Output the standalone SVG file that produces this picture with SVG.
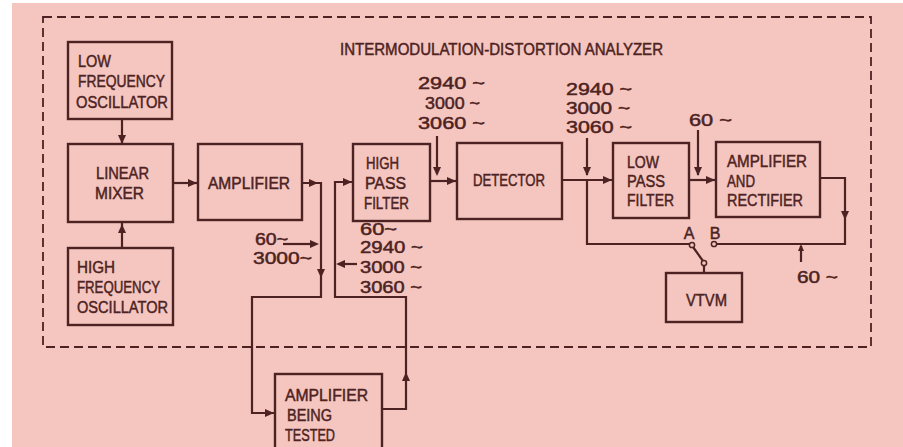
<svg xmlns="http://www.w3.org/2000/svg" xmlns:xlink="http://www.w3.org/1999/xlink" width="903" height="447" viewBox="0 0 903 447">
<style>
.bx{fill:none;stroke:#4d2222;stroke-width:2.4}
.ln{fill:none;stroke:#4d2222;stroke-width:2.2}
.lb{font-family:"Liberation Sans",Arial,sans-serif;font-size:16px;fill:#4d2222;stroke:#4d2222;stroke-width:0.45}
.term{fill:#f4c6bf;stroke:#4d2222;stroke-width:1.5}
</style>
<defs>
<path id="ah" d="M0,0 L-9,-4 L-9,4 Z" fill="#4d2222"/>
</defs>
<rect x="0" y="0" width="903" height="447" fill="#ffffff"/>
<rect x="12" y="3" width="891" height="444" fill="#f4c6bf"/>
<rect x="43" y="17" width="828" height="330" fill="none" stroke="#4d2222" stroke-width="1.8" stroke-dasharray="9 5"/>
<text class="lb" x="340" y="55" font-size="15" textLength="323" lengthAdjust="spacingAndGlyphs">INTERMODULATION-DISTORTION ANALYZER</text>

<g id="lfo">
<rect class="bx" x="68" y="42" width="104" height="77"/>
<text class="lb" x="78" y="67" textLength="33" lengthAdjust="spacingAndGlyphs">LOW</text>
<text class="lb" x="78" y="87" textLength="87" lengthAdjust="spacingAndGlyphs">FREQUENCY</text>
<text class="lb" x="76" y="108" textLength="92" lengthAdjust="spacingAndGlyphs">OSCILLATOR</text>
</g>
<g id="mixer">
<rect class="bx" x="68" y="144" width="105" height="78"/>
<text class="lb" x="96" y="179" textLength="53" lengthAdjust="spacingAndGlyphs">LINEAR</text>
<text class="lb" x="95" y="199" textLength="49" lengthAdjust="spacingAndGlyphs">MIXER</text>
</g>
<g id="hfo">
<rect class="bx" x="68" y="248" width="105" height="77"/>
<text class="lb" x="77" y="273" textLength="38" lengthAdjust="spacingAndGlyphs">HIGH</text>
<text class="lb" x="77" y="293" textLength="83" lengthAdjust="spacingAndGlyphs">FREQUENCY</text>
<text class="lb" x="77" y="313" textLength="91" lengthAdjust="spacingAndGlyphs">OSCILLATOR</text>
</g>
<g id="amplifier">
<rect class="bx" x="198" y="144" width="104" height="76"/>
<text class="lb" x="208" y="189" textLength="82" lengthAdjust="spacingAndGlyphs">AMPLIFIER</text>
</g>
<g id="hpf">
<rect class="bx" x="353" y="144" width="77" height="77"/>
<text class="lb" x="366" y="169" textLength="33" lengthAdjust="spacingAndGlyphs">HIGH</text>
<text class="lb" x="365" y="189" textLength="41" lengthAdjust="spacingAndGlyphs">PASS</text>
<text class="lb" x="364" y="209" textLength="45" lengthAdjust="spacingAndGlyphs">FILTER</text>
</g>
<g id="detector">
<rect class="bx" x="457" y="143" width="105" height="76"/>
<text class="lb" x="473" y="186" textLength="72" lengthAdjust="spacingAndGlyphs">DETECTOR</text>
</g>
<g id="lpf">
<rect class="bx" x="613" y="143" width="76" height="75"/>
<text class="lb" x="627" y="168" textLength="32" lengthAdjust="spacingAndGlyphs">LOW</text>
<text class="lb" x="627" y="187" textLength="38" lengthAdjust="spacingAndGlyphs">PASS</text>
<text class="lb" x="627" y="206" textLength="47" lengthAdjust="spacingAndGlyphs">FILTER</text>
</g>
<g id="amprect">
<rect class="bx" x="716" y="142" width="104" height="75"/>
<text class="lb" x="727" y="167" textLength="80" lengthAdjust="spacingAndGlyphs">AMPLIFIER</text>
<text class="lb" x="727" y="187" textLength="28" lengthAdjust="spacingAndGlyphs">AND</text>
<text class="lb" x="727" y="206" textLength="76" lengthAdjust="spacingAndGlyphs">RECTIFIER</text>
</g>
<g id="vtvm">
<rect class="bx" x="666" y="273" width="76" height="49"/>
<text class="lb" x="686" y="306" textLength="41" lengthAdjust="spacingAndGlyphs">VTVM</text>
</g>
<g id="abt">
<rect class="bx" x="275" y="374" width="107" height="80"/>
<text class="lb" x="285" y="401" textLength="83" lengthAdjust="spacingAndGlyphs">AMPLIFIER</text>
<text class="lb" x="287" y="421" textLength="45" lengthAdjust="spacingAndGlyphs">BEING</text>
<text class="lb" x="285" y="441" textLength="50" lengthAdjust="spacingAndGlyphs">TESTED</text>
</g>

<g id="connectors">
<path class="ln" d="M122 119 V144"/>
<use xlink:href="#ah" transform="translate(122,144) rotate(90)"/>
<path class="ln" d="M122 248 V222"/>
<use xlink:href="#ah" transform="translate(122,224) rotate(-90)"/>
<path class="ln" d="M173 183 H198"/>
<use xlink:href="#ah" transform="translate(197,183)"/>
<path class="ln" d="M302 183 H321 V297 H252 V413 H275"/>
<use xlink:href="#ah" transform="translate(318,183)"/>
<use xlink:href="#ah" transform="translate(321,278) rotate(90)"/>
<use xlink:href="#ah" transform="translate(274,413)"/>
<path class="ln" d="M382 409 H406 V297 H335 V182 H353"/>
<use xlink:href="#ah" transform="translate(406,372) rotate(-90)"/>
<use xlink:href="#ah" transform="translate(352,182)"/>
<path class="ln" d="M430 181 H457"/>
<use xlink:href="#ah" transform="translate(456,181)"/>
<path class="ln" d="M437 136 V174"/>
<use xlink:href="#ah" transform="translate(437,176) rotate(90)"/>
<path class="ln" d="M562 180 H613"/>
<use xlink:href="#ah" transform="translate(612,180)"/>
<path class="ln" d="M587 138 V175"/>
<use xlink:href="#ah" transform="translate(587,176) rotate(90)"/>
<path class="ln" d="M587 180 V244 H690"/>
<path class="ln" d="M689 180 H716"/>
<use xlink:href="#ah" transform="translate(715,180)"/>
<path class="ln" d="M698 130 V175"/>
<use xlink:href="#ah" transform="translate(698,176) rotate(90)"/>
<path class="ln" d="M820 178 H845 V244 H716"/>
<use xlink:href="#ah" transform="translate(845,220) rotate(90)"/>
<path class="ln" d="M801 262 V246" stroke-width="1.6"/>
<path d="M801 244 L798 251 L804 251 Z" fill="#4d2222"/>
<path class="ln" d="M283 244 H310"/>
<use xlink:href="#ah" transform="translate(319,244)"/>
<path class="ln" d="M357 264 H345"/>
<use xlink:href="#ah" transform="translate(336,264) rotate(180)"/>
<path class="ln" d="M693 247 L703 261" stroke-width="1.8"/>
<path class="ln" d="M704 265 V273"/>
<circle class="term" cx="692" cy="245" r="2.6"/>
<circle class="term" cx="714" cy="244" r="2.6"/>
<circle class="term" cx="704" cy="263" r="2.6"/>
</g>

<g id="labels">
<text class="lb" x="689" y="239" font-size="15" text-anchor="middle">A</text>
<text class="lb" x="715" y="239" font-size="15" text-anchor="middle">B</text>
<text class="lb" x="418" y="89" textLength="67" lengthAdjust="spacingAndGlyphs">2940 ~</text>
<text class="lb" x="425" y="109" textLength="55" lengthAdjust="spacingAndGlyphs">3000 ~</text>
<text class="lb" x="418" y="129" textLength="67" lengthAdjust="spacingAndGlyphs">3060 ~</text>
<text class="lb" x="566" y="95" textLength="66" lengthAdjust="spacingAndGlyphs">2940 ~</text>
<text class="lb" x="566" y="114" textLength="64" lengthAdjust="spacingAndGlyphs">3000 ~</text>
<text class="lb" x="566" y="133" textLength="66" lengthAdjust="spacingAndGlyphs">3060 ~</text>
<text class="lb" x="689" y="126" textLength="43" lengthAdjust="spacingAndGlyphs">60 ~</text>
<text class="lb" x="255" y="245" textLength="33" lengthAdjust="spacingAndGlyphs">60~</text>
<text class="lb" x="253" y="264" textLength="59" lengthAdjust="spacingAndGlyphs">3000~</text>
<text class="lb" x="360" y="235" textLength="37" lengthAdjust="spacingAndGlyphs">60~</text>
<text class="lb" x="360" y="253" textLength="63" lengthAdjust="spacingAndGlyphs">2940 ~</text>
<text class="lb" x="360" y="273" textLength="62" lengthAdjust="spacingAndGlyphs">3000 ~</text>
<text class="lb" x="360" y="293" textLength="62" lengthAdjust="spacingAndGlyphs">3060 ~</text>
<text class="lb" x="797" y="283" textLength="41" lengthAdjust="spacingAndGlyphs">60 ~</text>
</g>
</svg>
